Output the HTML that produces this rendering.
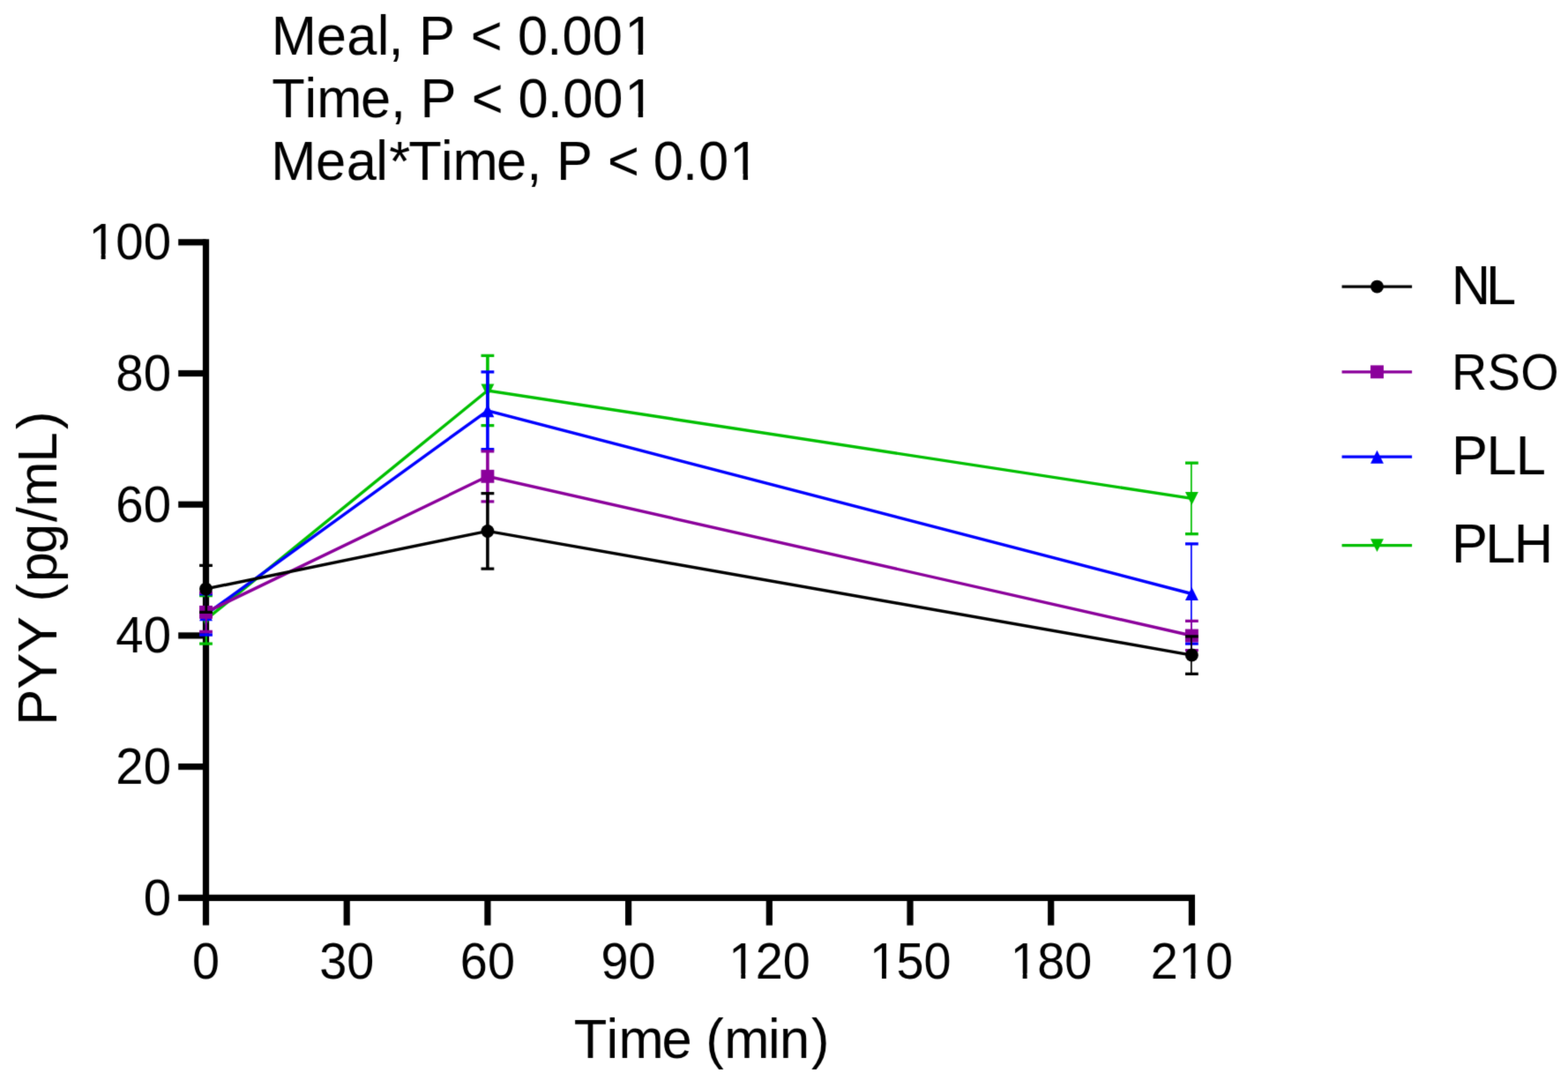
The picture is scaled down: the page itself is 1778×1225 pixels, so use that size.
<!DOCTYPE html>
<html lang="en">
<head>
<meta charset="utf-8">
<title>PYY (pg/mL) vs Time (min)</title>
<style>
html,body{margin:0;padding:0;background:#ffffff;}
body{width:1778px;height:1225px;overflow:hidden;}
svg{display:block;}
text{font-family:"Liberation Sans",sans-serif;fill:#000;white-space:pre;}
</style>
</head>
<body>
<svg width="1778" height="1225" viewBox="0 0 1778 1225">
<defs>
<filter id="soft" x="0" y="0" width="1778" height="1225" filterUnits="userSpaceOnUse" color-interpolation-filters="sRGB">
<feConvolveMatrix order="3" kernelMatrix="1 6 1 6 36 6 1 6 1" divisor="64" edgeMode="duplicate" preserveAlpha="false"/>
</filter>
</defs>
<g filter="url(#soft)">
<rect x="0" y="0" width="1778" height="1225" fill="#ffffff"/>
<g fill="none" stroke="#000" stroke-width="7.2" stroke-linecap="butt">
<path d="M233.5 271.2 V1049.6"/>
<path d="M202.2 1018.3 H1355.0"/>
<path d="M202.2 869.60 H233.5"/>
<path d="M202.2 720.90 H233.5"/>
<path d="M202.2 572.20 H233.5"/>
<path d="M202.2 423.50 H233.5"/>
<path d="M202.2 274.80 H233.5"/>
<path d="M393.20 1018.3 V1049.6"/>
<path d="M552.90 1018.3 V1049.6"/>
<path d="M712.60 1018.3 V1049.6"/>
<path d="M872.30 1018.3 V1049.6"/>
<path d="M1032.00 1018.3 V1049.6"/>
<path d="M1191.70 1018.3 V1049.6"/>
<path d="M1351.40 1018.3 V1049.6"/>
</g>
<g stroke="#00BF00" fill="none">
<path d="M233.80 675.50 V730.10" stroke-width="2.2"/>
<path d="M226.10 675.50 H240.90 M226.10 730.10 H240.90" stroke-width="3.3"/>
<path d="M552.90 403.40 V482.70" stroke-width="3.6"/>
<path d="M545.50 403.40 H560.30 M545.50 482.70 H560.30" stroke-width="3.3"/>
<path d="M1350.85 525.10 V605.70" stroke-width="1.7"/>
<path d="M1344.00 525.10 H1358.80 M1344.00 605.70 H1358.80" stroke-width="3.3"/>
<polyline points="233.50,702.80 552.90,443.05 1351.40,565.40" stroke-width="3.4" stroke-linejoin="miter"/>
</g>
<path d="M226.05 695.35 L240.95 695.35 L233.50 710.25 Z" fill="#00BF00"/>
<path d="M545.45 435.60 L560.35 435.60 L552.90 450.50 Z" fill="#00BF00"/>
<path d="M1343.95 557.95 L1358.85 557.95 L1351.40 572.85 Z" fill="#00BF00"/>
<g stroke="#0000FF" fill="none">
<path d="M233.80 673.80 V720.00" stroke-width="2.2"/>
<path d="M226.10 673.80 H240.90 M226.10 720.00 H240.90" stroke-width="3.3"/>
<path d="M552.90 421.80 V509.70" stroke-width="3.6"/>
<path d="M545.50 421.80 H560.30 M545.50 509.70 H560.30" stroke-width="3.3"/>
<path d="M1350.85 616.80 V730.20" stroke-width="1.7"/>
<path d="M1344.00 616.80 H1358.80 M1344.00 730.20 H1358.80" stroke-width="3.3"/>
<polyline points="233.50,696.90 552.90,465.75 1351.40,673.50" stroke-width="3.4" stroke-linejoin="miter"/>
</g>
<path d="M233.50 689.45 L240.95 704.35 L226.05 704.35 Z" fill="#0000FF"/>
<path d="M552.90 458.30 L560.35 473.20 L545.45 473.20 Z" fill="#0000FF"/>
<path d="M1351.40 666.05 L1358.85 680.95 L1343.95 680.95 Z" fill="#0000FF"/>
<g stroke="#8B009B" fill="none">
<path d="M233.80 672.30 V716.50" stroke-width="2.2"/>
<path d="M226.10 672.30 H240.90 M226.10 716.50 H240.90" stroke-width="3.3"/>
<path d="M552.90 511.80 V568.80" stroke-width="3.6"/>
<path d="M545.50 511.80 H560.30 M545.50 568.80 H560.30" stroke-width="3.3"/>
<path d="M1350.85 704.40 V737.60" stroke-width="1.7"/>
<path d="M1344.00 704.40 H1358.80 M1344.00 737.60 H1358.80" stroke-width="3.3"/>
<polyline points="233.50,694.40 552.90,540.30 1351.40,721.00" stroke-width="3.4" stroke-linejoin="miter"/>
</g>
<rect x="226.05" y="686.95" width="14.90" height="14.90" fill="#8B009B"/>
<rect x="545.45" y="532.85" width="14.90" height="14.90" fill="#8B009B"/>
<rect x="1343.95" y="713.55" width="14.90" height="14.90" fill="#8B009B"/>
<g stroke="#000000" fill="none">
<path d="M233.80 641.35 V694.45" stroke-width="2.8"/>
<path d="M226.10 641.35 H240.90 M226.10 694.45 H240.90" stroke-width="3.3"/>
<path d="M552.90 559.70 V645.20" stroke-width="3.6"/>
<path d="M545.50 559.70 H560.30 M545.50 645.20 H560.30" stroke-width="3.3"/>
<path d="M1350.85 721.80 V764.30" stroke-width="1.7"/>
<path d="M1344.00 721.80 H1358.80 M1344.00 764.30 H1358.80" stroke-width="3.3"/>
<polyline points="233.50,667.90 552.90,602.45 1351.40,743.05" stroke-width="3.4" stroke-linejoin="miter"/>
</g>
<circle cx="233.50" cy="667.90" r="7.45" fill="#000000"/>
<circle cx="552.90" cy="602.45" r="7.45" fill="#000000"/>
<circle cx="1351.40" cy="743.05" r="7.45" fill="#000000"/>
<path d="M1521.6 325.1 H1601.1" stroke="#000000" stroke-width="3.3" fill="none"/>
<circle cx="1561.50" cy="325.10" r="7.45" fill="#000000"/>
<path d="M1521.6 421.8 H1601.1" stroke="#8B009B" stroke-width="3.3" fill="none"/>
<rect x="1554.05" y="414.35" width="14.90" height="14.90" fill="#8B009B"/>
<path d="M1521.6 518.2 H1601.1" stroke="#0000FF" stroke-width="3.3" fill="none"/>
<path d="M1561.50 510.75 L1568.95 525.65 L1554.05 525.65 Z" fill="#0000FF"/>
<path d="M1521.6 618.6 H1601.1" stroke="#00BF00" stroke-width="3.3" fill="none"/>
<path d="M1554.05 611.15 L1568.95 611.15 L1561.50 626.05 Z" fill="#00BF00"/>
<g>
<text transform="translate(0 62.30) scale(0.9850 1)" font-size="62.4" x="312.39 364.10 399.28 434.17 447.19 464.52 482.19 523.81 541.80 578.24 595.84 629.63 647.11 681.88 719.00" y="0">Meal, P &lt; 0.001</text>
<text transform="translate(0 132.90) scale(0.9850 1)" font-size="62.4" x="312.96 350.65 364.74 415.22 449.72 467.06 483.82 525.44 543.01 579.45 596.45 630.24 647.92 682.54 719.00" y="0">Time, P &lt; 0.001</text>
<text transform="translate(0 203.80) scale(0.9850 1)" font-size="62.4" x="312.04 363.44 398.67 432.85 448.03 470.27 507.50 521.24 571.66 606.37 623.71 640.57 682.19 699.56 736.00 751.98 785.77 804.11 839.71" y="0">Meal*Time, P &lt; 0.01</text>
<text transform="translate(0 1037.60) scale(0.9820 1)" font-size="57.4" x="165.63" y="0">0</text>
<text transform="translate(0 888.90) scale(0.9820 1)" font-size="57.4" x="133.71 165.63" y="0">20</text>
<text transform="translate(0 740.20) scale(0.9820 1)" font-size="57.4" x="133.71 165.63" y="0">40</text>
<text transform="translate(0 591.50) scale(0.9820 1)" font-size="57.4" x="133.71 165.63" y="0">60</text>
<text transform="translate(0 442.80) scale(0.9820 1)" font-size="57.4" x="133.71 165.63" y="0">80</text>
<text transform="translate(0 294.10) scale(0.9820 1)" font-size="57.4" x="102.30 133.71 165.63" y="0">100</text>
<text transform="translate(0 1110.20) scale(0.9720 1)" font-size="57.4" x="224.26" y="0">0</text>
<text transform="translate(0 1110.20) scale(0.9720 1)" font-size="57.4" x="372.60 404.53" y="0">30</text>
<text transform="translate(0 1110.20) scale(0.9720 1)" font-size="57.4" x="536.90 568.83" y="0">60</text>
<text transform="translate(0 1110.20) scale(0.9720 1)" font-size="57.4" x="701.20 733.13" y="0">90</text>
<text transform="translate(0 1110.20) scale(0.9720 1)" font-size="57.4" x="850.06 881.47 913.39" y="0">120</text>
<text transform="translate(0 1110.20) scale(0.9720 1)" font-size="57.4" x="1014.36 1045.77 1077.69" y="0">150</text>
<text transform="translate(0 1110.20) scale(0.9720 1)" font-size="57.4" x="1178.66 1210.07 1241.99" y="0">180</text>
<text transform="translate(0 1110.20) scale(0.9720 1)" font-size="57.4" x="1342.44 1374.88 1406.29" y="0">210</text>
<text transform="translate(0 1199.90) scale(0.9850 1)" font-size="62.4" x="660.68 697.86 712.10 762.02 796.72 812.48 833.72 884.20 897.48 934.05" y="0">Time (min)</text>
<text transform="translate(64.00 0) rotate(-90) scale(0.9850 1)" font-size="62.4" x="-835.17 -793.71 -751.42 -709.80 -692.80 -670.32 -637.65 -601.02 -583.64 -532.43 -494.38" y="0">PYY (pg/mL)</text>
<text transform="translate(0 344.70) scale(0.9850 1)" font-size="62.4" x="1670.92 1710.72" y="0">NL</text>
<text transform="translate(0 441.70) scale(0.9720 1)" font-size="57.4" x="1693.34 1735.36 1773.93" y="0">RSO</text>
<text transform="translate(0 537.90) scale(0.9850 1)" font-size="62.4" x="1671.02 1711.23 1744.93" y="0">PLL</text>
<text transform="translate(0 638.40) scale(0.9850 1)" font-size="62.4" x="1671.02 1709.91 1743.00" y="0">PLH</text>
</g>
<g fill="#ffffff">
<rect x="710.91" y="55.64" width="12.75" height="8.66"/>
<rect x="729.10" y="55.64" width="12.12" height="8.66"/>
<rect x="710.91" y="126.24" width="12.75" height="8.66"/>
<rect x="729.10" y="126.24" width="12.12" height="8.66"/>
<rect x="829.81" y="197.14" width="12.75" height="8.66"/>
<rect x="848.00" y="197.14" width="12.12" height="8.66"/>
<rect x="102.93" y="287.81" width="11.70" height="8.29"/>
<rect x="119.61" y="287.81" width="11.12" height="8.29"/>
<rect x="828.71" y="1103.91" width="11.58" height="8.29"/>
<rect x="845.22" y="1103.91" width="11.01" height="8.29"/>
<rect x="988.41" y="1103.91" width="11.58" height="8.29"/>
<rect x="1004.92" y="1103.91" width="11.01" height="8.29"/>
<rect x="1148.11" y="1103.91" width="11.58" height="8.29"/>
<rect x="1164.62" y="1103.91" width="11.01" height="8.29"/>
<rect x="1338.84" y="1103.91" width="11.58" height="8.29"/>
<rect x="1355.35" y="1103.91" width="11.01" height="8.29"/>
</g>
</g>
</svg>
</body>
</html>
